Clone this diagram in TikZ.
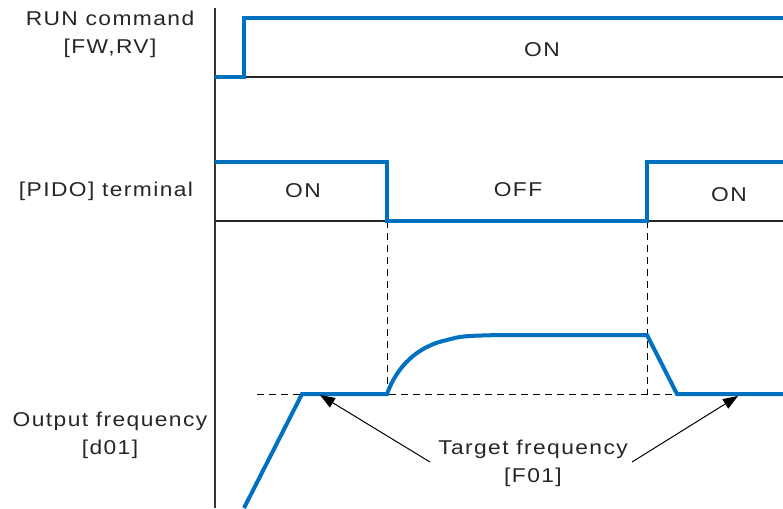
\documentclass[tikz,border=0pt]{standalone}
\usepackage{fontspec}
\setmainfont{Liberation Sans}[LetterSpace=7,FakeStretch=1.14]
\usetikzlibrary{arrows.meta}
\definecolor{sigblue}{HTML}{0070C0}
\definecolor{axisgray}{HTML}{333333}
\begin{document}
\begin{tikzpicture}[x=1pt,y=-1pt,
  lbl/.style={inner sep=0pt,align=center,font=\fontsize{20}{28}\selectfont,text=black!85},
  sig/.style={draw=sigblue,line width=4pt,line join=miter,line cap=butt},
  base/.style={draw=black!85,line width=1.1pt},
  guide/.style={draw=black,line width=1pt,dash pattern=on 7pt off 5pt},
  callout/.style={draw=black,line width=1pt,-{Triangle[length=15pt,width=11pt]}}]
\useasboundingbox (0,0) rectangle (783,508);
% axis
\draw[draw=axisgray,line width=1.3pt] (215,8) -- (215,508);
% baselines
\draw[base] (215,77) -- (783,77);
\draw[base] (215,221) -- (783,221);
% guides
\draw[guide] (387,221) -- (387,394);
\draw[guide] (647,221) -- (647,394);
\draw[guide] (257,394) -- (783,394);
% signals
\draw[sig] (215,77) -- (244,77) -- (244,18) -- (783,18);
\draw[sig] (215,162) -- (387,162) -- (387,221) -- (647,221) -- (647,162) -- (783,162);
\draw[sig] (244,508) -- (302,394) -- (387,394)
  .. controls (397,366) and (418,346) .. (447,340)
  .. controls (462,336) .. (500,335) -- (647,335) -- (677,394) -- (783,394);
% labels
\node[lbl] (run) at (110,34) {RUN command\\{}[FW,RV]};
\node[lbl] (pido) at (106,191) {[PIDO] terminal};
\node[lbl] (outf) at (110,435) {Output frequency\\{}[d01]};
\node[lbl] (on1) at (542,50) {ON};
\node[lbl] (on2) at (303,191) {ON};
\node[lbl] (off) at (518,190) {OFF};
\node[lbl] (on3) at (729,195) {ON};
\node[lbl] (target) at (533,463) {Target frequency\\{}[F01]};
% callouts
\coordinate (t1s) at (430,462);
\coordinate (t1e) at (320,395);
\coordinate (t2s) at (632,462);
\coordinate (t2e) at (738,396);
\draw[callout] (t1s) -- (t1e);
\draw[callout] (t2s) -- (t2e);
\end{tikzpicture}
\end{document}
